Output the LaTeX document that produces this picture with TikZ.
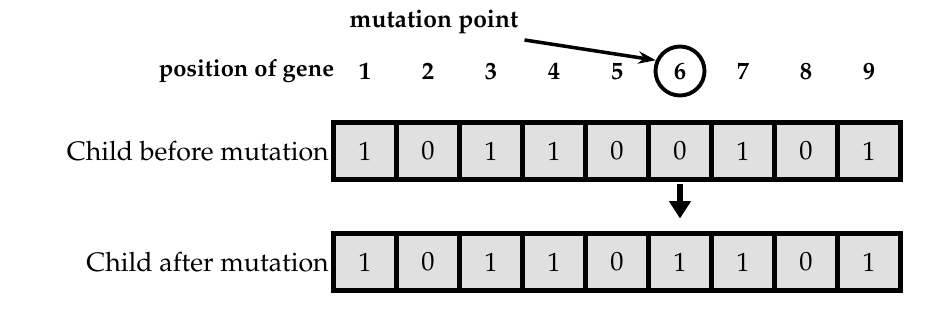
\documentclass[tikz,border=0pt]{standalone}
\usepackage[T1]{fontenc}
\usepackage{mathpazo}
\usetikzlibrary{positioning,arrows.meta}

\tikzset{
    gene/.style={draw,line width=3pt,fill=gray!24,minimum width=1.26cm,
                 minimum height=1.14cm,inner sep=0pt,
                 font=\fontsize{15}{18}\selectfont},
    genepos/.style={font=\bfseries\fontsize{14}{17}\selectfont},
    lbl/.style={font=\fontsize{15.2}{18}\selectfont,inner sep=1pt},
}

\begin{document}
\begin{tikzpicture}[x=0.02cm,y=-0.02cm]
                \useasboundingbox (0,0) rectangle (947,332);
                % gene positions and the two chromosomes
                \foreach \i in {1,...,9}
                    \node[genepos] (p\i) at ({365+63*(\i-1)},71) {\i};
                \foreach \g [count=\i] in {1,0,1,1,0,0,1,0,1}
                    \node[gene] (b\i) at ({365+63*(\i-1)},151) {\g};
                \foreach \g [count=\i] in {1,0,1,1,0,1,1,0,1}
                    \node[gene] (a\i) at ({365+63*(\i-1)},262) {\g};
                \node[genepos,font=\bfseries\fontsize{13.5}{16}\selectfont] (pg)[left=7pt of p1] {position of gene};
                \node[lbl] (cb)[left=0pt of b1] {Child before mutation};
                \node[lbl] (ca)[left=0pt of a1] {Child after mutation};
                \node[genepos] (mp) at (434,22) {mutation point};
                \node[circle,draw,line width=2.2pt,minimum size=0.98cm] (ring) at (p6) {};
                \path[line width=2pt,-{Stealth[length=10pt,width=7pt]}]
                        (mp.south east) edge (ring.156);
                \path[line width=3.5pt,-{Triangle[length=10pt,width=12pt]},
                      shorten <=1pt,shorten >=7pt]
                        (b6.south) edge (a6.north);
            \end{tikzpicture}
\end{document}
